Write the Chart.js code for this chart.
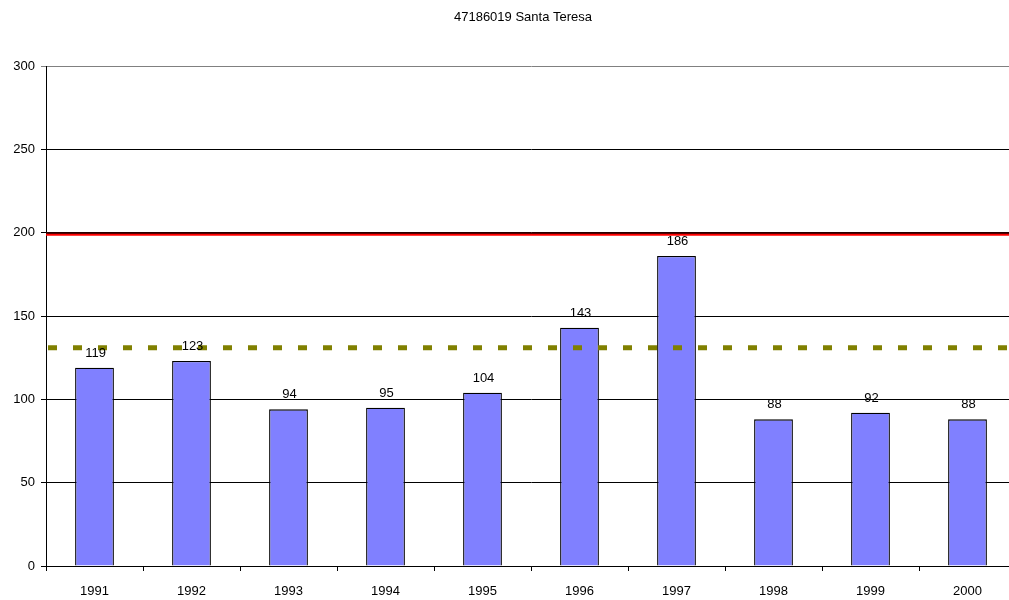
<!DOCTYPE html>
<html><head><meta charset="utf-8">
<script src="https://cdn.jsdelivr.net/npm/chart.js@4/dist/chart.umd.min.js"></script>
<style>html,body{margin:0;padding:0;overflow:hidden;background:#fff}#wrap{width:1046px;height:600px;position:relative}</style>
</head><body><div id="wrap"><canvas id="c"></canvas></div>
<script>
const title = '47186019 Santa Teresa';
const years = ['1991','1992','1993','1994','1995','1996','1997','1998','1999','2000'];
const values = [119,123,94,95,104,143,186,88,92,88];
const limitValue = 200;
const avgValue = 131;
const FONT = '"Liberation Sans", Arial, sans-serif';

const overlay = {
  id:'overlay',
  afterDatasetsDraw(chart){
    const ctx = chart.ctx, y = chart.scales.y, a = chart.chartArea;
    ctx.save();
    const yr = y.getPixelForValue(limitValue);
    ctx.strokeStyle = '#ff0000'; ctx.lineWidth = 3;
    ctx.beginPath(); ctx.moveTo(a.left, yr+1.5); ctx.lineTo(a.right, yr+1.5); ctx.stroke();
    ctx.strokeStyle = '#000'; ctx.lineWidth = 1;
    ctx.beginPath(); ctx.moveTo(a.left, yr+0.5); ctx.lineTo(a.right, yr+0.5); ctx.stroke();
    const ya = y.getPixelForValue(avgValue);
    ctx.strokeStyle = '#808000'; ctx.lineWidth = 5; ctx.setLineDash([9,16]);
    ctx.beginPath(); ctx.moveTo(a.left+2, ya); ctx.lineTo(a.right, ya); ctx.stroke();
    ctx.setLineDash([]);
    ctx.fillStyle = '#000'; ctx.font = '13px ' + FONT; ctx.textAlign = 'center'; ctx.textBaseline = 'bottom';
    chart.getDatasetMeta(0).data.forEach((b,i)=>{ ctx.fillText(String(values[i]), b.x + 1, b.y - 8); });
    ctx.textBaseline = 'middle';
    ctx.fillText(title, 523, 17);
    ctx.restore();
  }
};

new Chart(document.getElementById('c'), {
  type:'bar',
  data:{labels:years, datasets:[{data:values, backgroundColor:'#8080ff', borderColor:'#000', borderWidth:1.3, barPercentage:0.4, categoryPercentage:1}]},
  options:{
    responsive:true, maintainAspectRatio:false, animation:false,
    layout:{padding:{top:66,right:30,left:0,bottom:0}},
    plugins:{legend:{display:false}, tooltip:{enabled:false}, title:{display:false}},
    scales:{
      x:{
        grid:{offset:true, drawOnChartArea:false, drawTicks:true, tickLength:5, color:'#000'},
        border:{color:'#000', width:1},
        ticks:{color:'#000', font:{size:13, family:FONT}, padding:13, maxRotation:0},
        afterFit(s){ s.height = 34; }
      },
      y:{
        min:0, max:300,
        grid:{color:(c)=> c.tick && c.tick.value===300 ? '#808080' : '#000', tickLength:5, drawTicks:true},
        border:{color:'#000', width:1},
        ticks:{stepSize:50, color:'#000', font:{size:13, family:FONT}, padding:6},
        afterFit(s){ s.width = 46; }
      }
    }
  },
  plugins:[overlay]
});
</script></body></html>
